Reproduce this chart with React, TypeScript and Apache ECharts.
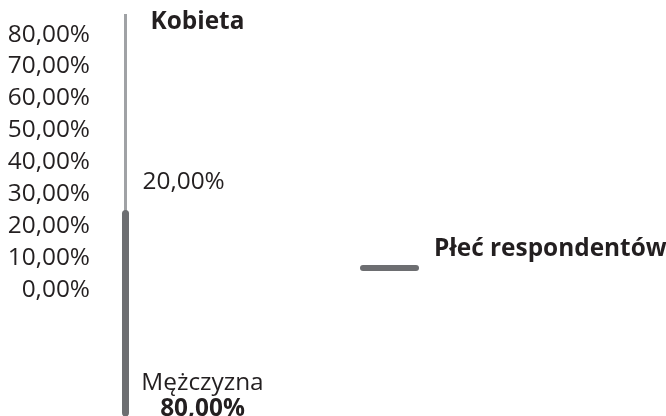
import React, { useEffect, useRef } from "react";
import * as echarts from "echarts";

const seriesName = "Płeć respondentów";
const genders = ["Kobieta", "Mężczyzna"];
const shares = [20, 80];
const axisMin = 0;
const axisMax = 80;
const axisInterval = 10;
const pathStops = [genders[0], "środek", genders[1]];

const fmt = (v: number) => `${v},00%`;
const FONT = "Open Sans";
const TEXT = "#231f20";
const FS = 24.4;

export default function App() {
  const ref = useRef<HTMLDivElement>(null);
  useEffect(() => {
    if (!ref.current) return;
    const chart = echarts.init(ref.current, null, { renderer: "svg" });
    chart.setOption({
      animation: false,
      legend: {
        data: [seriesName],
        left: 360,
        top: 234,
        padding: 0,
        itemWidth: 59,
        itemHeight: 6,
        icon: "path://M3,0 H56 A3,3 0 0 1 56,6 H3 A3,3 0 0 1 3,0 Z",
        formatter: (name: string) => `{a|${name}}\n{b| }`,
        textStyle: {
          rich: {
            a: {
              fontFamily: FONT,
              fontSize: FS,
              fontWeight: "bold",
              color: TEXT,
              lineHeight: 44,
              padding: [0, 0, 0, 10],
            },
            b: { fontFamily: FONT, fontSize: FS, lineHeight: 44 },
          },
        },
      },
      grid: [
        { left: 98, top: 32, height: 255, width: 10 },
        { left: 100, top: 14, height: 399, width: 51 },
      ],
      xAxis: [
        { type: "value", gridIndex: 0, show: false },
        { type: "category", gridIndex: 1, data: [seriesName], show: false },
      ],
      yAxis: [
        {
          type: "value",
          gridIndex: 0,
          min: axisMin,
          max: axisMax,
          interval: axisInterval,
          axisLine: { show: false },
          axisTick: { show: false },
          splitLine: { show: false },
          axisLabel: {
            formatter: (v: number) => fmt(v),
            fontFamily: FONT,
            fontSize: FS,
            color: TEXT,
            margin: 8,
          },
        },
        {
          type: "category",
          gridIndex: 1,
          data: pathStops,
          inverse: true,
          boundaryGap: false,
          show: false,
        },
      ],
      series: [
        {
          name: genders[0],
          type: "line",
          xAxisIndex: 1,
          yAxisIndex: 1,
          symbol: "circle",
          symbolSize: 1,
          itemStyle: { color: "rgba(0,0,0,0)" },
          lineStyle: { color: "#a0a2a5", width: 3, cap: "butt" },
          data: [
            {
              value: [seriesName, pathStops[0]],
              label: {
                show: true,
                position: "inside",
                align: "left",
                offset: [25, 5],
                formatter: genders[0],
                fontFamily: FONT,
                fontSize: FS,
                fontWeight: "bold",
                color: TEXT,
              },
            },
            {
              value: [seriesName, pathStops[1]],
              label: {
                show: true,
                position: "inside",
                align: "left",
                offset: [17, -34],
                formatter: fmt(shares[0]),
                fontFamily: FONT,
                fontSize: FS,
                color: TEXT,
              },
            },
          ],
          z: 2,
        },
        {
          name: seriesName,
          type: "line",
          xAxisIndex: 1,
          yAxisIndex: 1,
          symbol: "circle",
          symbolSize: 1,
          itemStyle: { color: "#6d6e71", opacity: 1 },
          lineStyle: { color: "#6d6e71", width: 7, cap: "round" },
          data: [
            { value: [seriesName, pathStops[1]], itemStyle: { color: "rgba(0,0,0,0)" } },
            {
              value: [seriesName, pathStops[2]],
              itemStyle: { color: "rgba(0,0,0,0)" },
              label: {
                show: true,
                position: "inside",
                align: "center",
                offset: [77, -20],
                formatter: `{n|${genders[1]}}\n{v|${fmt(shares[1])}}`,
                rich: {
                  n: { fontFamily: FONT, fontSize: FS, color: TEXT, lineHeight: 26, align: "center" },
                  v: { fontFamily: FONT, fontSize: FS, fontWeight: "bold", color: TEXT, lineHeight: 26, align: "center" },
                },
              },
            },
          ],
          z: 3,
        },
      ],
    });
    return () => chart.dispose();
  }, []);
  return <div ref={ref} style={{ width: 666, height: 416, position: "fixed", left: 0, top: 0 }} />;
}
